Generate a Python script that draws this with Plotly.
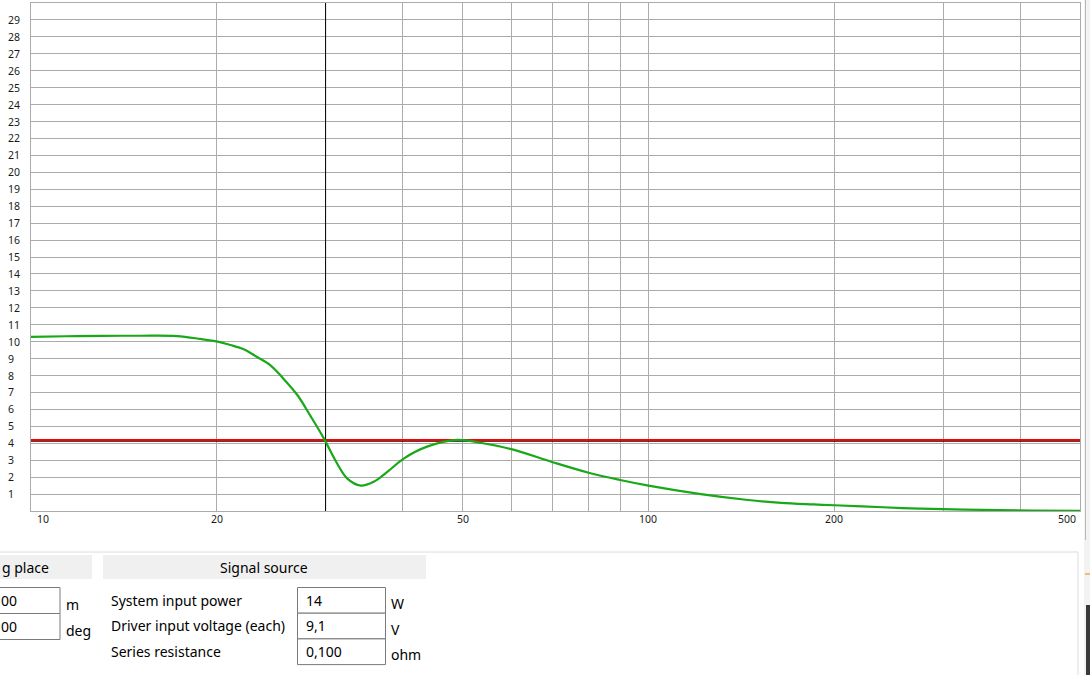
import plotly.graph_objects as go
import numpy as np

# ---------------- data ----------------
freq = [10, 11.4, 13, 15, 17.23, 18.8, 20.05, 21.03, 22.1, 23.2, 24.4, 25.6, 27.0, 28.4, 29.8,
        31.3, 32.5, 34.2, 35.9, 37.8, 40.2, 43.8, 49, 53.4, 60.2, 70, 80, 90,
        100, 121.6, 145, 164, 185, 200, 240, 275, 325, 420, 500]
level = [10.28, 10.32, 10.34, 10.35, 10.33, 10.16, 10.0, 9.8, 9.55, 9.11, 8.62, 7.84, 6.85, 5.57, 4.29,
         2.82, 1.93, 1.50, 1.73, 2.32, 3.11, 3.80, 4.20, 4.03, 3.64, 2.88, 2.26, 1.83,
         1.50, 1.00, 0.65, 0.48, 0.39, 0.34, 0.22, 0.14, 0.08, 0.03, 0.01]

cursor_freq = 30
cursor_level = 4.2

x_grid = [10, 20, 30, 40, 50, 60, 70, 80, 90, 100, 200, 300, 400, 500]
x_labels = [10, 20, 50, 100, 200, 500]
y_labels = list(range(1, 30))

panel_headers = ["g place", "Signal source"]
left_values = ["00", "00"]
left_units = ["m", "deg"]
signal_labels = ["System input power", "Driver input voltage (each)", "Series resistance"]
signal_values = ["14", "9,1", "0,100"]
signal_units = ["W", "V", "ohm"]

# ---------------- geometry helpers ----------------
W, H = 1090, 675
L, R, T, B = 31, 1080, 3, 511
def px(x):
    return (x - L) / (R - L)
def py(y):
    return (B - y) / (B - T)

FONT = "Noto Sans"
GRID = "#ababab"

fig = go.Figure()

# cursor lines
fig.add_trace(go.Scatter(x=[10, 500], y=[cursor_level - 0.08] * 2, mode="lines",
                         line=dict(color="black", width=1), hoverinfo="skip", showlegend=False))
fig.add_trace(go.Scatter(x=[10, 500], y=[cursor_level] * 2, mode="lines",
                         line=dict(color="#ff0000", width=2), hoverinfo="skip", showlegend=False))
fig.add_trace(go.Scatter(x=[cursor_freq] * 2, y=[0, 30], mode="lines",
                         line=dict(color="black", width=1), hoverinfo="skip", showlegend=False))
# main curve
fig.add_trace(go.Scatter(x=freq, y=level, mode="lines",
                         line=dict(color="#18a818", width=2.2, shape="spline", smoothing=1.0),
                         hoverinfo="skip", showlegend=False))

annotations = []
for v in y_labels:
    annotations.append(dict(x=px(6), xref="paper", y=v, yref="y", text=str(v),
                            showarrow=False, xanchor="left", yanchor="middle",
                            font=dict(family=FONT, size=10.5, color="#1a1a1a")))
for v in x_labels:
    if v == 10:
        xa, xx = "left", np.log10(v) + 0.006
    elif v == 500:
        xa, xx = "right", np.log10(v) - 0.004
    else:
        xa, xx = "center", np.log10(v)
    annotations.append(dict(x=xx, xref="x", y=py(519), yref="paper", text=str(v),
                            showarrow=False, xanchor=xa, yanchor="middle",
                            font=dict(family=FONT, size=10.5, color="#1a1a1a")))

shapes = []
def rect(x0, y0, x1, y1, fill="rgba(0,0,0,0)", line="rgba(0,0,0,0)", lw=1):
    shapes.append(dict(type="rect", xref="paper", yref="paper",
                       x0=px(x0), x1=px(x1), y0=py(y0), y1=py(y1),
                       fillcolor=fill, line=dict(color=line, width=lw), layer="above"))
def text(x, y, s, anchor="left", size=14):
    annotations.append(dict(x=px(x), xref="paper", y=py(y), yref="paper", text=s,
                            showarrow=False, xanchor=anchor, yanchor="middle",
                            font=dict(family=FONT, size=size, color="black")))

# panel separator
shapes.append(dict(type="line", xref="paper", yref="paper", x0=px(0), x1=px(1078),
                   y0=py(552), y1=py(552), line=dict(color="#dcdcdc", width=1)))
shapes.append(dict(type="line", xref="paper", yref="paper", x0=px(1078), x1=px(1078),
                   y0=py(552), y1=py(675), line=dict(color="#dcdcdc", width=1)))
# right edge strip
rect(1084, 0, 1090, 675, fill="#f3f3f3")
shapes.append(dict(type="line", xref="paper", yref="paper", x0=px(1085.5), x1=px(1085.5),
                   y0=py(0), y1=py(540), line=dict(color="#b8b8b8", width=1)))
shapes.append(dict(type="line", xref="paper", yref="paper", x0=px(1085), x1=px(1090),
                   y0=py(574), y1=py(574), line=dict(color="#e08a00", width=1)))
rect(1086, 605, 1090, 675, fill="#3a3a3a")

# headers
rect(0, 555, 92, 579, fill="#f0f0f0")
text(0, 567, panel_headers[0])
rect(103, 555, 426, 579, fill="#f0f0f0")
text(264, 567, panel_headers[1], anchor="center")

# left inputs
for i, (v, u) in enumerate(zip(left_values, left_units)):
    y0 = 587.5 + i * 26
    rect(-5, y0, 60, y0 + 26, fill="white", line="#7a7a7a")
    text(-1, y0 + 13, v)
    text(64, y0 + 17, u)

# signal source rows
for i, (lab, v, u) in enumerate(zip(signal_labels, signal_values, signal_units)):
    y0 = 587.5 + i * 25.7
    text(109, y0 + 12.5, lab)
    rect(297.5, y0, 385.5, y0 + 25.7, fill="white", line="#7a7a7a")
    text(304, y0 + 12.5, v)
    text(389, y0 + 16, u)

fig.update_layout(
    width=W, height=H,
    margin=dict(l=L, r=W - R, t=T, b=H - B),
    paper_bgcolor="white", plot_bgcolor="white",
    showlegend=False,
    xaxis=dict(type="log", range=[1, np.log10(500)], tickvals=x_grid, showticklabels=False,
               showgrid=True, gridcolor=GRID, gridwidth=1, zeroline=False,
               showline=True, linecolor=GRID, linewidth=1, mirror=True, ticks=""),
    yaxis=dict(range=[0, 30], tickvals=list(range(0, 31)), showticklabels=False,
               showgrid=True, gridcolor=GRID, gridwidth=1, zeroline=False,
               showline=True, linecolor=GRID, linewidth=1, mirror=True, ticks=""),
    annotations=annotations,
    shapes=shapes,
)

fig.write_html("out.html", config={"displayModeBar": False},
               post_script="document.body.style.margin='0';document.body.style.padding='0';document.body.style.overflow='hidden';")
